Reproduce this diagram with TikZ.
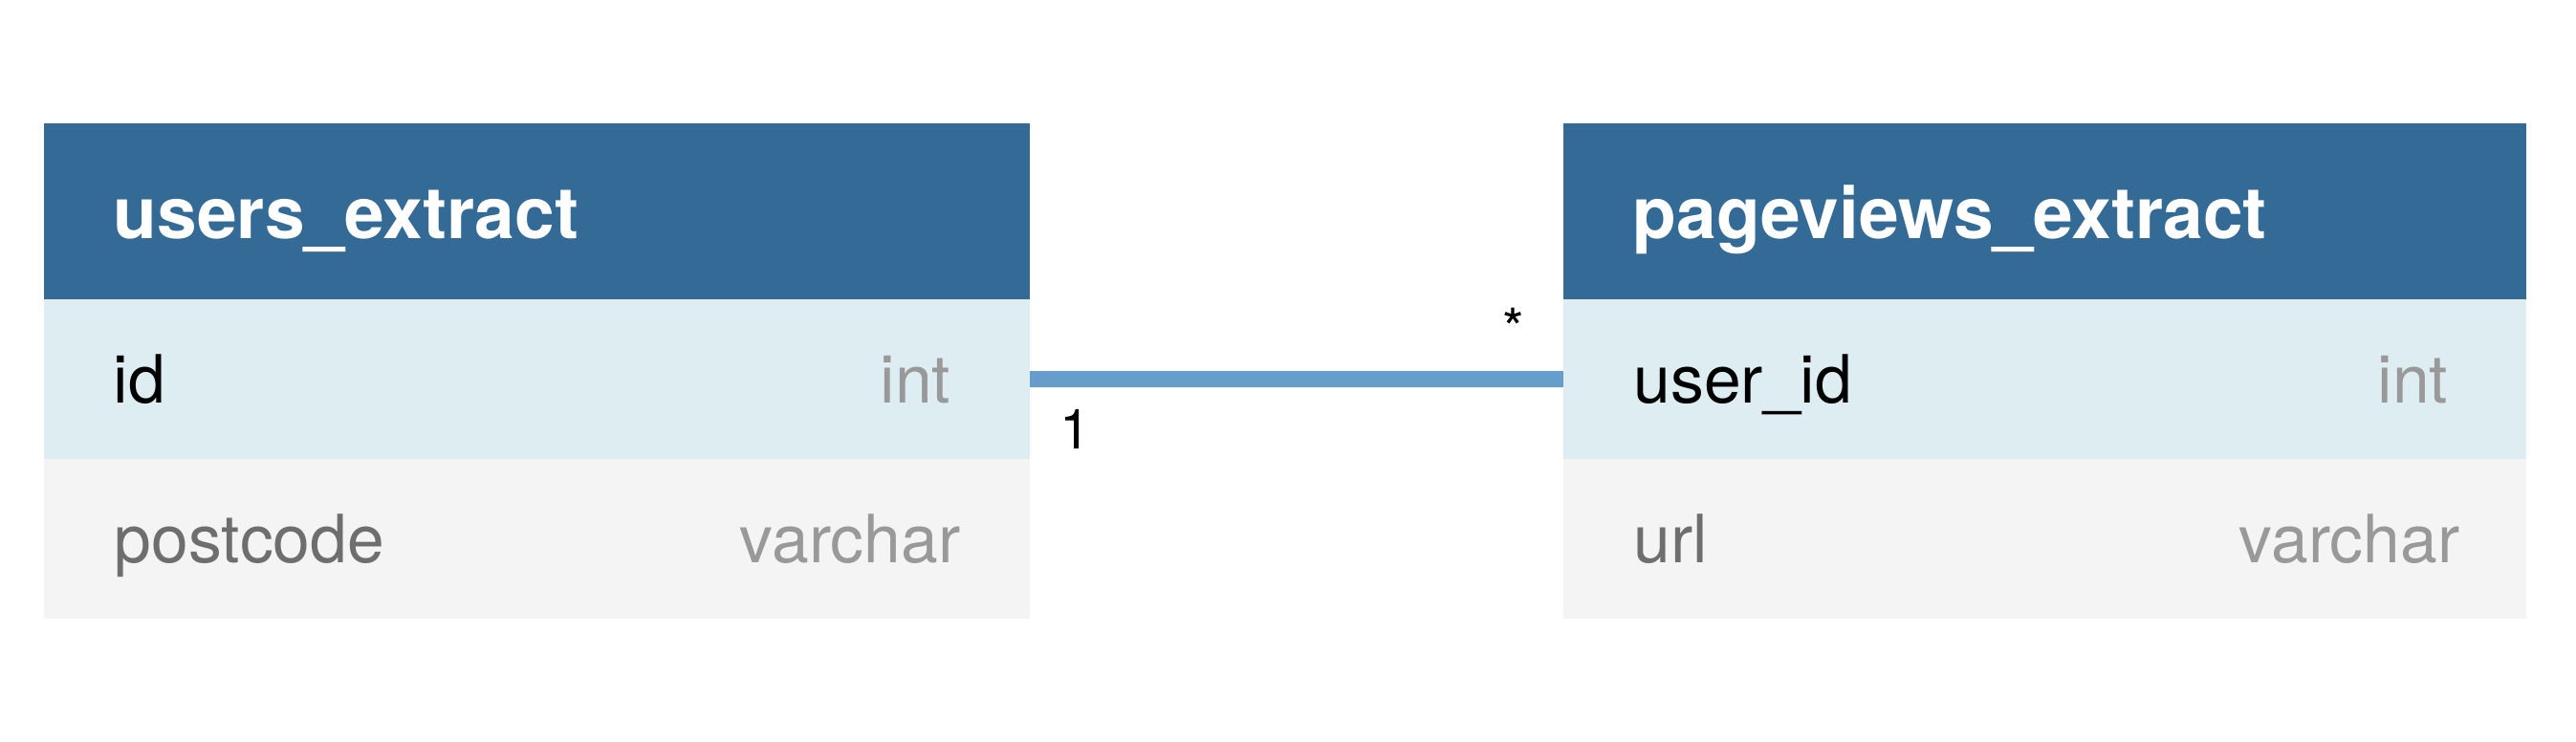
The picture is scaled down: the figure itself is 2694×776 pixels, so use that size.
\documentclass[tikz,border=0pt]{standalone}
\usepackage{fontspec}
\setmainfont{TeX Gyre Heros}

\definecolor{headblue}{RGB}{52,106,150}
\definecolor{keyblue}{RGB}{222,237,242}
\definecolor{rowgray}{RGB}{244,244,244}
\definecolor{linkblue}{RGB}{102,157,203}
\definecolor{namegray}{RGB}{110,110,110}
\definecolor{typegray}{RGB}{153,153,153}

\tikzset{
  headbox/.style={fill=headblue, minimum height=1.84cm, inner sep=0, outer sep=0},
  keyrow/.style={fill=keyblue, minimum height=1.67cm, inner sep=0, outer sep=0},
  plainrow/.style={fill=rowgray, minimum height=1.67cm, inner sep=0, outer sep=0},
  tabletitle/.style={inner sep=0, anchor=base west, text=white, font=\fontsize{21.3pt}{24pt}\selectfont\bfseries},
  fieldname/.style={inner sep=0, anchor=base west, font=\fontsize{19.8pt}{22pt}\selectfont},
  fieldtype/.style={inner sep=0, anchor=base east, text=typegray, font=\fontsize{19.8pt}{22pt}\selectfont},
  cardlabel/.style={inner sep=0, anchor=base west, font=\fontsize{16.5pt}{19pt}\selectfont}
}

\begin{document}
\begin{tikzpicture}[x=0.01cm,y=-0.01cm]

\useasboundingbox (0,0) rectangle (2694,776);

% users_extract
\node [headbox, minimum width=10.30cm, anchor=north west] (users) at (46,129) {};
\node [keyrow, minimum width=10.30cm, anchor=north west] (users-id) at (users.south west) {};
\node [plainrow, minimum width=10.30cm, anchor=north west] (users-postcode) at (users-id.south west) {};

\node [tabletitle] (users-title) at (118,249) {users\_extract};
\node [fieldname] (users-id-name) at (118,421) {id};
\node [fieldtype] (users-id-type) at (995,421) {int};
\node [fieldname, text=namegray] (users-postcode-name) at (119,588) {postcode};
\node [fieldtype] (users-postcode-type) at (1005,588) {varchar};

% pageviews_extract
\node [headbox, minimum width=10.06cm, anchor=north west] (pages) at (1635,129) {};
\node [keyrow, minimum width=10.06cm, anchor=north west] (pages-userid) at (pages.south west) {};
\node [plainrow, minimum width=10.06cm, anchor=north west] (pages-url) at (pages-userid.south west) {};

\node [tabletitle] (pages-title) at (1707,249) {pageviews\_extract};
\node [fieldname] (pages-userid-name) at (1708,421) {user\_id};
\node [fieldtype] (pages-userid-type) at (2561,421) {int};
\node [fieldname, text=namegray] (pages-url-name) at (1708,588) {url};
\node [fieldtype] (pages-url-type) at (2573,588) {varchar};

% link
\draw [color=linkblue, line width=0.17cm] (users-id.east) -- (pages-userid.west);

\node [cardlabel] (one) at (1108,469) {1};
\node [cardlabel] (many) at (1571,364) {*};

\end{tikzpicture}
\end{document}
